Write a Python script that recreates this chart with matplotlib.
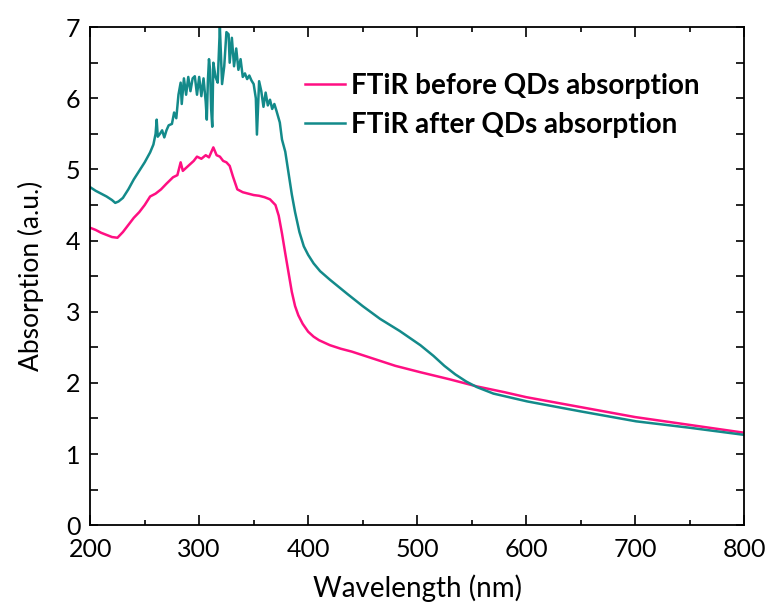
import numpy as np
import matplotlib
matplotlib.use("Agg")
import matplotlib.pyplot as plt
from matplotlib.ticker import MultipleLocator

# wavelength (nm) and absorption (a.u.)
wl_before = [200, 205, 210, 215, 220, 225, 230, 235, 240, 245, 250, 255, 260,
             265, 270, 276, 280, 283, 285, 290, 295, 298, 302, 306, 309, 313,
             316, 319, 322, 325, 328, 331, 335, 340, 345, 350, 355, 360, 365,
             370, 373, 376, 379, 382, 385, 388, 391, 395, 400, 405, 410, 420,
             430, 440, 450, 466, 480, 503, 530, 555, 580, 600, 650, 700, 750, 800]
abs_before = [4.18, 4.15, 4.11, 4.08, 4.05, 4.04, 4.12, 4.22, 4.32, 4.40, 4.50,
              4.62, 4.66, 4.72, 4.80, 4.89, 4.92, 5.10, 4.98, 5.05, 5.12, 5.18,
              5.15, 5.20, 5.17, 5.31, 5.20, 5.18, 5.12, 5.10, 5.05, 4.90, 4.72,
              4.68, 4.66, 4.64, 4.63, 4.61, 4.58, 4.50, 4.35, 4.10, 3.82, 3.55,
              3.28, 3.08, 2.95, 2.83, 2.72, 2.65, 2.60, 2.53, 2.48, 2.44, 2.39,
              2.31, 2.24, 2.15, 2.05, 1.95, 1.87, 1.80, 1.66, 1.52, 1.41, 1.30]

wl_after = [200, 205, 210, 215, 220, 223, 226, 230, 235, 240, 245, 250, 255,
            258, 260, 261, 262, 264, 266, 268, 270, 272, 275, 277, 279, 281,
            283, 284, 286, 288, 290, 292, 294, 296, 298, 300, 302, 304, 306,
            307, 308, 309, 310, 311, 312, 313, 315, 317, 319, 320, 321, 323,
            325, 327, 328, 330, 332, 334, 336, 338, 340, 342, 344, 346, 348,
            350, 352, 353, 355, 357, 359, 361, 363, 365, 367, 369, 371, 374,
            376, 379, 382, 385, 388, 392, 396, 400, 405, 411, 420, 436, 450,
            466, 484, 503, 515, 525, 535, 545, 555, 570, 601, 650, 701, 750, 800]
abs_after = [4.75, 4.70, 4.66, 4.62, 4.57, 4.53, 4.55, 4.60, 4.72, 4.86, 4.98,
             5.10, 5.24, 5.35, 5.50, 5.70, 5.46, 5.50, 5.55, 5.45, 5.55, 5.62,
             5.64, 5.80, 5.72, 6.05, 6.22, 5.92, 6.28, 6.05, 6.30, 6.10, 6.28,
             6.31, 6.05, 6.30, 6.03, 6.28, 5.95, 5.70, 6.25, 6.55, 6.40, 5.85,
             5.60, 6.50, 6.30, 6.22, 7.00, 6.60, 6.20, 6.45, 6.93, 6.90, 6.50,
             6.85, 6.45, 6.70, 6.40, 6.55, 6.30, 6.35, 6.27, 6.32, 6.25, 6.20,
             6.00, 5.49, 6.24, 6.10, 5.88, 6.08, 5.90, 5.98, 5.85, 5.92, 5.82,
             5.66, 5.42, 5.25, 4.95, 4.65, 4.40, 4.12, 3.92, 3.80, 3.68, 3.57,
             3.45, 3.25, 3.08, 2.90, 2.73, 2.53, 2.38, 2.24, 2.12, 2.02, 1.94,
             1.85, 1.74, 1.60, 1.46, 1.37, 1.27]

labels = ["FTiR before QDs absorption", "FTiR after QDs absorption"]
colors = ["#ff0f82", "#138a8a"]

plt.rcParams['font.family'] = ['Lato', 'DejaVu Sans']

fig = plt.figure(figsize=(7.71, 6.03), dpi=100)
ax = fig.add_axes([0.117, 0.129, 0.848, 0.826])

ax.plot(wl_before, abs_before, color=colors[0], lw=1.8, label=labels[0])
ax.plot(wl_after, abs_after, color=colors[1], lw=1.8, label=labels[1])

ax.set_xlim(200, 800)
ax.set_ylim(0, 7)
ax.xaxis.set_major_locator(MultipleLocator(100))
ax.xaxis.set_minor_locator(MultipleLocator(50))
ax.yaxis.set_major_locator(MultipleLocator(1))
ax.yaxis.set_minor_locator(MultipleLocator(0.5))
ax.tick_params(which='both', direction='in', top=True, right=True,
               labelsize=18, width=1.2)
ax.tick_params(axis='x', which='both', pad=9)
ax.tick_params(axis='y', which='both', pad=7)
ax.tick_params(axis='x', which='major', length=7)
ax.tick_params(axis='x', which='minor', length=3.5)
ax.tick_params(axis='y', which='both', length=6)
for s in ax.spines.values():
    s.set_linewidth(1.3)

ax.set_xlabel("Wavelength (nm)", fontsize=20, labelpad=10)
ax.set_ylabel("Absorption (a.u.)", fontsize=19, labelpad=16)

leg = ax.legend(loc='upper left', bbox_to_anchor=(0.29, 0.958), frameon=False,
                prop={'weight': 'bold', 'size': 20}, handlelength=1.45,
                handletextpad=0.2, labelspacing=0.45)

fig.savefig("out.png", dpi=100)
